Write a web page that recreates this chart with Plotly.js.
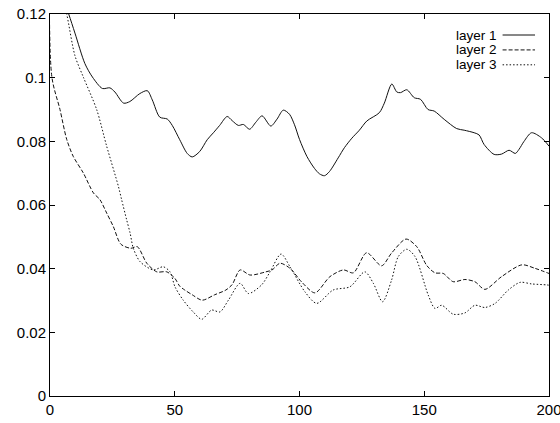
<!DOCTYPE html>
<html>
<head>
<meta charset="utf-8">
<script src="https://cdn.plot.ly/plotly-3.0.1.min.js"></script>
<style>
  html, body { margin: 0; padding: 0; background: #fff; }
  #chart { width: 560px; height: 423px; }
</style>
</head>
<body>
<div id="chart"></div>
<script>
// ---- data ----
var seriesNames = ["layer 1", "layer 2", "layer 3"];

var layer1X = [0, 4, 7.5, 10, 14, 17, 21, 24, 26, 29.5, 32, 36, 39, 41, 44, 47, 49, 52, 55, 57, 60, 63, 65.5, 68, 71, 73, 75.5, 77.5, 80, 82.5, 85, 88.5, 91, 93.5, 96, 98, 100, 103, 106, 108, 110, 112, 115.5, 118, 121, 124, 127, 132, 134, 137, 139, 140.5, 143, 146, 148.5, 151.5, 154, 158, 163, 166, 170, 172, 174, 178, 181, 184, 186.5, 188, 190, 193, 197, 200];
var layer1Y = [0.14, 0.128, 0.12, 0.114, 0.1044, 0.1002, 0.0966, 0.0968, 0.0955, 0.092, 0.0925, 0.095, 0.0959, 0.093, 0.0876, 0.087, 0.085, 0.0805, 0.0762, 0.0751, 0.0768, 0.0805, 0.0827, 0.085, 0.0878, 0.0865, 0.085, 0.0853, 0.0838, 0.086, 0.088, 0.0848, 0.087, 0.0898, 0.0885, 0.0852, 0.0806, 0.0752, 0.0715, 0.0698, 0.0692, 0.0705, 0.0748, 0.078, 0.081, 0.0835, 0.0864, 0.089, 0.092, 0.098, 0.0955, 0.0953, 0.0962, 0.0937, 0.0932, 0.090, 0.0895, 0.0869, 0.084, 0.0835, 0.0827, 0.082, 0.079, 0.0759, 0.076, 0.0772, 0.0762, 0.0775, 0.080, 0.0827, 0.0811, 0.0785];

var layer2X = [0, 0.7, 4, 6.7, 9.3, 13.4, 17.4, 20, 22.7, 25.4, 28.4, 32.4, 35, 38.8, 42.8, 46.8, 50, 52, 54, 57, 61, 66, 70.5, 73, 76.2, 80.2, 86.5, 89, 92.2, 96.2, 101, 106.2, 112.2, 117.6, 121.6, 126.9, 132.9, 136.9, 142.7, 147, 151, 154.3, 157.6, 161.6, 166.3, 170.3, 174.3, 181, 189.1, 194.4, 200];
var layer2Y = [0.16, 0.1005, 0.090, 0.0806, 0.0753, 0.070, 0.0638, 0.0617, 0.0575, 0.0532, 0.0477, 0.0464, 0.0469, 0.0417, 0.039, 0.039, 0.037, 0.0345, 0.0333, 0.0318, 0.0301, 0.0318, 0.0333, 0.035, 0.0396, 0.038, 0.039, 0.0396, 0.0417, 0.0401, 0.0357, 0.0324, 0.0375, 0.0396, 0.0387, 0.045, 0.0409, 0.0449, 0.0493, 0.0469, 0.041, 0.0387, 0.0385, 0.0359, 0.0366, 0.0359, 0.0335, 0.0375, 0.0412, 0.0401, 0.0385];

var layer3X = [0, 3, 6.7, 10, 13.4, 18.7, 22.7, 27.4, 28.7, 30.7, 32.1, 33.4, 36.1, 41.4, 45.4, 48.1, 50.1, 53.4, 57.4, 60.8, 64.8, 68.1, 71.5, 76.2, 79.5, 84.8, 88.2, 92.6, 96.2, 102.2, 106.9, 113.5, 120.2, 126.2, 129.6, 133.3, 136.9, 139.6, 143, 146.3, 151.6, 154.3, 157, 161.6, 166.3, 170.3, 174.3, 178.4, 183.7, 188.4, 193.1, 199.1, 200];
var layer3Y = [0.145, 0.132, 0.12, 0.1069, 0.1001, 0.090, 0.0785, 0.0659, 0.0617, 0.0554, 0.0512, 0.0464, 0.0422, 0.0396, 0.0406, 0.039, 0.0343, 0.0301, 0.0264, 0.0241, 0.027, 0.0264, 0.0301, 0.0354, 0.0322, 0.0349, 0.039, 0.0446, 0.0406, 0.0327, 0.0291, 0.0333, 0.0343, 0.039, 0.0354, 0.0296, 0.0364, 0.0438, 0.0461, 0.0438, 0.0317, 0.0275, 0.0285, 0.0257, 0.0261, 0.0285, 0.0278, 0.0291, 0.0333, 0.0357, 0.0352, 0.0349, 0.0348];

var xTickVals = [0, 50, 100, 150, 200];
var yTickVals = [0, 0.02, 0.04, 0.06, 0.08, 0.1, 0.12];
var yTickText = ["0", "0.02", "0.04", "0.06", "0.08", "0.1", "0.12"];

// ---- styling ----
var dashes = ["solid", "4px,2px", "1.5px,2px"];
var xs = [layer1X, layer2X, layer3X];
var ys = [layer1Y, layer2Y, layer3Y];
var font = "Liberation Sans, Arial, Helvetica, sans-serif";

var traces = seriesNames.map(function (name, i) {
  return {
    x: xs[i], y: ys[i], name: name, type: "scatter", mode: "lines",
    line: { color: "#111", width: 1, dash: dashes[i], shape: "spline", smoothing: 0.8 },
    showlegend: false
  };
});

// legend drawn text-then-sample, as in the reference
var annotations = [], shapes = [];
var legRowY = [0.945, 0.906, 0.867];
seriesNames.forEach(function (name, i) {
  annotations.push({
    xref: "paper", yref: "paper", x: 0.898, y: legRowY[i],
    xanchor: "right", yanchor: "middle", text: name, showarrow: false,
    borderpad: 0,
    font: { family: font, size: 13.5, color: "#000" }
  });
  shapes.push({
    type: "line", xref: "paper", yref: "paper",
    x0: 0.907, x1: 0.972, y0: legRowY[i], y1: legRowY[i],
    line: { color: "#111", width: 1, dash: dashes[i] }
  });
});

var layout = {
  width: 560, height: 423,
  margin: { l: 50, r: 11, t: 14, b: 27, pad: 0 },
  paper_bgcolor: "#fff", plot_bgcolor: "#fff",
  font: { family: font, size: 15, color: "#000" },
  showlegend: false,
  xaxis: {
    range: [0, 200], tickvals: xTickVals, ticks: "inside", ticklen: 5,
    tickcolor: "#000", showline: true, linecolor: "#000", linewidth: 1,
    mirror: "ticks", showgrid: false, zeroline: false,
    ticklabeloverflow: "allow",
    tickfont: { family: font, size: 15, color: "#000" }
  },
  yaxis: {
    range: [0, 0.12], tickvals: yTickVals, ticktext: yTickText, ticks: "inside", ticklen: 5,
    tickcolor: "#000", showline: true, linecolor: "#000", linewidth: 1,
    mirror: "ticks", showgrid: false, zeroline: false,
    ticklabeloverflow: "allow",
    tickfont: { family: font, size: 15, color: "#000" }
  },
  annotations: annotations,
  shapes: shapes
};

Plotly.newPlot("chart", traces, layout, { staticPlot: true, displayModeBar: false });
</script>
</body>
</html>
